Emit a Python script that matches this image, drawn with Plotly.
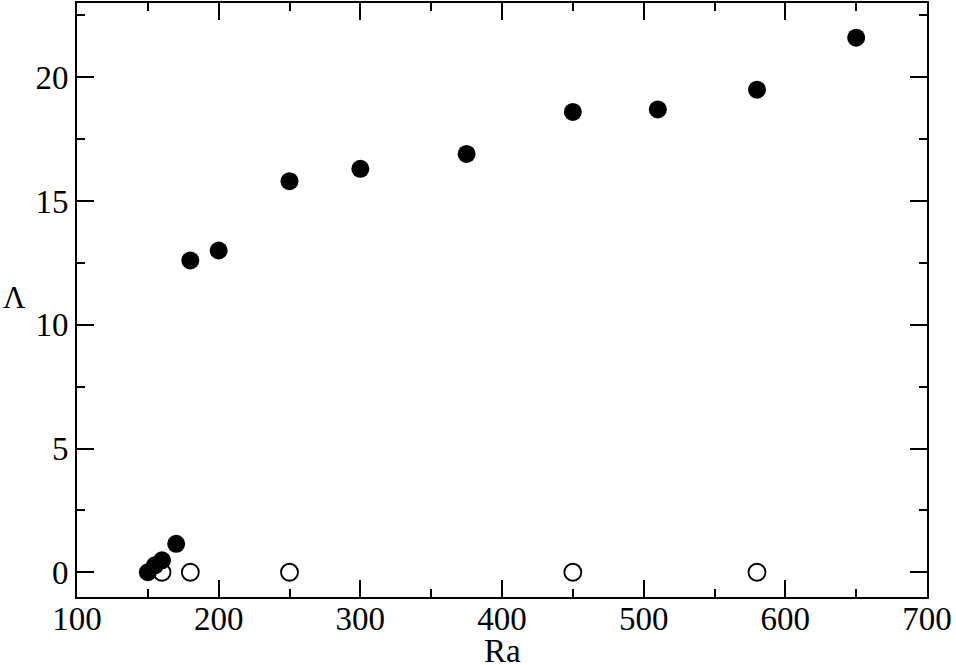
import plotly.graph_objects as go

ra_filled = [150, 155, 160, 170, 180, 200, 250, 300, 375, 450, 510, 580, 650]
lam_filled = [0.0, 0.28, 0.48, 1.15, 12.6, 13.0, 15.8, 16.3, 16.9, 18.6, 18.7, 19.5, 21.6]
ra_open = [160, 180, 250, 450, 580]
lam_open = [0, 0, 0, 0, 0]

FONT = "Liberation Serif, Times New Roman, serif"

fig = go.Figure()
fig.add_trace(go.Scatter(x=ra_open, y=lam_open, mode="markers",
                         marker=dict(symbol="circle-open", size=17, color="black", line=dict(width=1.8)),
                         showlegend=False, cliponaxis=False))
fig.add_trace(go.Scatter(x=ra_filled, y=lam_filled, mode="markers",
                         marker=dict(symbol="circle", size=18, color="black", line=dict(width=0)),
                         showlegend=False, cliponaxis=False))

axis_common = dict(showline=True, linecolor="black", linewidth=2, mirror="allticks",
                   ticks="inside", ticklen=17, tickwidth=1.5, tickcolor="black",
                   showgrid=False, zeroline=False, automargin=False,
                   tickfont=dict(family=FONT, size=33, color="black"))
fig.update_xaxes(range=[100, 700], tickmode="array", tickvals=[100, 200, 300, 400, 500, 600, 700],
                 ticklabelstandoff=-9,
                 minor=dict(ticks="inside", ticklen=8, tickwidth=1.5, tickcolor="black",
                            tickvals=[150, 250, 350, 450, 550, 650]),
                 **axis_common)
fig.update_yaxes(range=[-1, 23], tickmode="array", tickvals=[0, 5, 10, 15, 20],
                 minor=dict(ticks="inside", ticklen=8, tickwidth=1.5, tickcolor="black",
                            tickvals=[-2.5, 2.5, 7.5, 12.5, 17.5, 22.5]),
                 **axis_common)

fig.add_annotation(text="Ra", xref="paper", yref="paper", x=0.5, y=-0.091, yanchor="middle",
                   showarrow=False, font=dict(family=FONT, size=33, color="black"))
fig.add_annotation(text="Λ", xref="paper", yref="paper", x=-0.058, y=0.505, xanchor="right",
                   showarrow=False, font=dict(family=FONT, size=31, color="black"))

fig.update_layout(width=956, height=665, margin=dict(l=77, r=29, t=3, b=68),
                  plot_bgcolor="white", paper_bgcolor="white")
fig.write_html("out.html", config={"displayModeBar": False},
               post_script="document.body.style.margin='0px';document.body.style.overflow='hidden';")
